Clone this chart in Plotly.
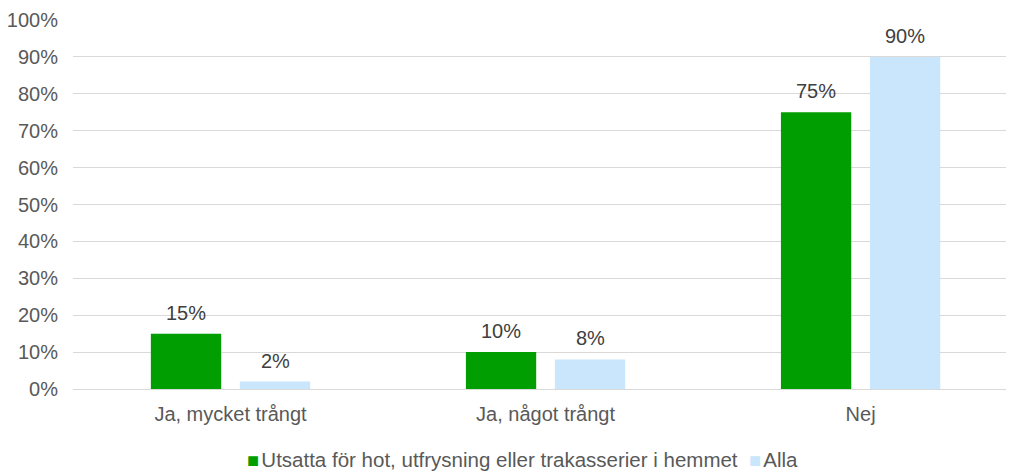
import plotly.graph_objects as go

categories = ["Ja, mycket trångt", "Ja, något trångt", "Nej"]
series_names = ["Utsatta för hot, utfrysning eller trakasserier i hemmet", "Alla"]
utsatta = [15, 10, 75]
alla = [2, 8, 90]
colors = ["#009e00", "#c9e6fc"]
y_ticks = list(range(0, 101, 10))

FONT = "Liberation Sans, Arial, sans-serif"
pos = list(range(len(categories)))

fig = go.Figure()
for name, vals, col, off in [(series_names[0], utsatta, colors[0], 0), (series_names[1], alla, colors[1], 1)]:
    fig.add_trace(go.Bar(
        x=pos, y=vals, name=name, marker=dict(color=col, line=dict(width=0)),
        offsetgroup=str(off), hoverinfo="skip",
    ))

annotations = []
for idx, vals in enumerate([utsatta, alla]):
    for i, v in enumerate(vals):
        annotations.append(dict(
            x=pos[i], y=v, text=f"{v}%", showarrow=False, xref="x", yref="y",
            xshift=(-44.5 if idx == 0 else 44.5), yanchor="bottom", yshift=8,
            font=dict(family=FONT, size=20, color="#404040"),
        ))

# custom legend (squares + names)
legend_text = (
    f"<span style='color:{colors[0]};font-size:20px'>■</span><span style='font-size:8px'> </span>{series_names[0]}"
    f"  <span style='color:{colors[1]};font-size:20px'>■</span><span style='font-size:8px'> </span>{series_names[1]}"
)
annotations.append(dict(
    x=0.478, y=-0.192, xref="paper", yref="paper", xanchor="center", yanchor="middle",
    text=legend_text, showarrow=False, font=dict(family=FONT, size=20.5, color="#595959"),
))

fig.update_layout(
    width=1006, height=464,
    margin=dict(l=65, r=0, t=12, b=83, autoexpand=False),
    paper_bgcolor="white", plot_bgcolor="white",
    barmode="group", bargap=0.435, bargroupgap=0.21,
    font=dict(family=FONT, size=20, color="#595959"),
    showlegend=False,
    annotations=annotations,
    yaxis=dict(range=[0, 100], tickvals=y_ticks, ticktext=[f"{t}%" for t in y_ticks],
               showgrid=True, gridcolor="#d9d9d9", gridwidth=1, zeroline=False,
               showline=False, ticks="", ticklabelstandoff=14, fixedrange=True,
               automargin=False),
    xaxis=dict(range=[-0.5, 2.487], tickvals=pos, ticktext=categories,
               showgrid=False, zeroline=False,
               showline=True, linecolor="#d9d9d9", linewidth=1, ticks="",
               tickfont=dict(size=20, color="#595959"), fixedrange=True,
               ticklabelstandoff=7, automargin=False),
)

fig.write_html("out.html")
